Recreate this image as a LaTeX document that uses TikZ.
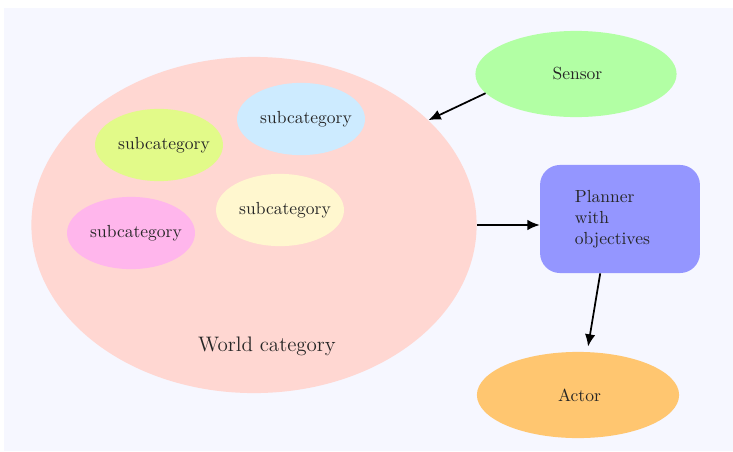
\documentclass[tikz,border=0pt]{standalone}
\usepackage{tikz}
\usetikzlibrary{shapes.geometric}
\usetikzlibrary{arrows.meta}

\definecolor{bgcol}{RGB}{246,247,255}
\definecolor{worldcol}{RGB}{255,215,210}
\definecolor{limecol}{RGB}{226,250,137}
\definecolor{skycol}{RGB}{205,235,255}
\definecolor{creamcol}{RGB}{255,247,207}
\definecolor{pinkcol}{RGB}{255,182,236}
\definecolor{sensorcol}{RGB}{178,255,164}
\definecolor{plannercol}{RGB}{148,150,255}
\definecolor{actorcol}{RGB}{255,198,112}

\tikzset{
  blob/.style={ellipse, inner sep=0pt, text=black!85},
  sub/.style={blob, minimum width=2.57cm, minimum height=1.45cm,
    label={[text=black!85, xshift=0.1cm]center:subcategory}},
  link/.style={-{Latex[length=7pt,width=6pt]}, line width=1pt}
}

\begin{document}
\begin{tikzpicture}[x=0.02008cm, y=-0.02008cm]
    \useasboundingbox (0,0) rectangle (733,451);
    \fill[bgcol] (4,8) rectangle (733,451);
    % world and its subcategories
    \node[blob, fill=worldcol, minimum width=8.94cm, minimum height=6.75cm] (world) at (254,225) {};
    \node[text=black!85, font=\large] (wlabel) at (267,346) {World category};
    \node[sub, fill=limecol] (sub1) at (159,145) {};
    \node[sub, fill=skycol] (sub2) at (301,119) {};
    \node[sub, fill=creamcol] (sub3) at (280,210) {};
    \node[sub, fill=pinkcol] (sub4) at (131,233) {};
    % the other nodes
    \node[blob, fill=sensorcol, minimum width=4.04cm, minimum height=1.73cm] (sensor) at (576,74) {\,Sensor};
    \node[rectangle, rounded corners=0.4cm, fill=plannercol, text=black!85,
          minimum width=3.21cm, minimum height=2.17cm,
          text width=1.81cm, align=left] (planner) at (620,219) {Planner\\with\\objectives};
    \node[blob, fill=actorcol, minimum width=4.06cm, minimum height=1.73cm] (actor) at (578,395) {\,Actor};
    % connectors
    \draw[link] (sensor.192) -- (world.31);
    \draw[link] (world.east) -- (planner.west |- world.east);
    \draw[link, shorten >=3pt] (planner.250) -- (actor.78);
\end{tikzpicture}
\end{document}
